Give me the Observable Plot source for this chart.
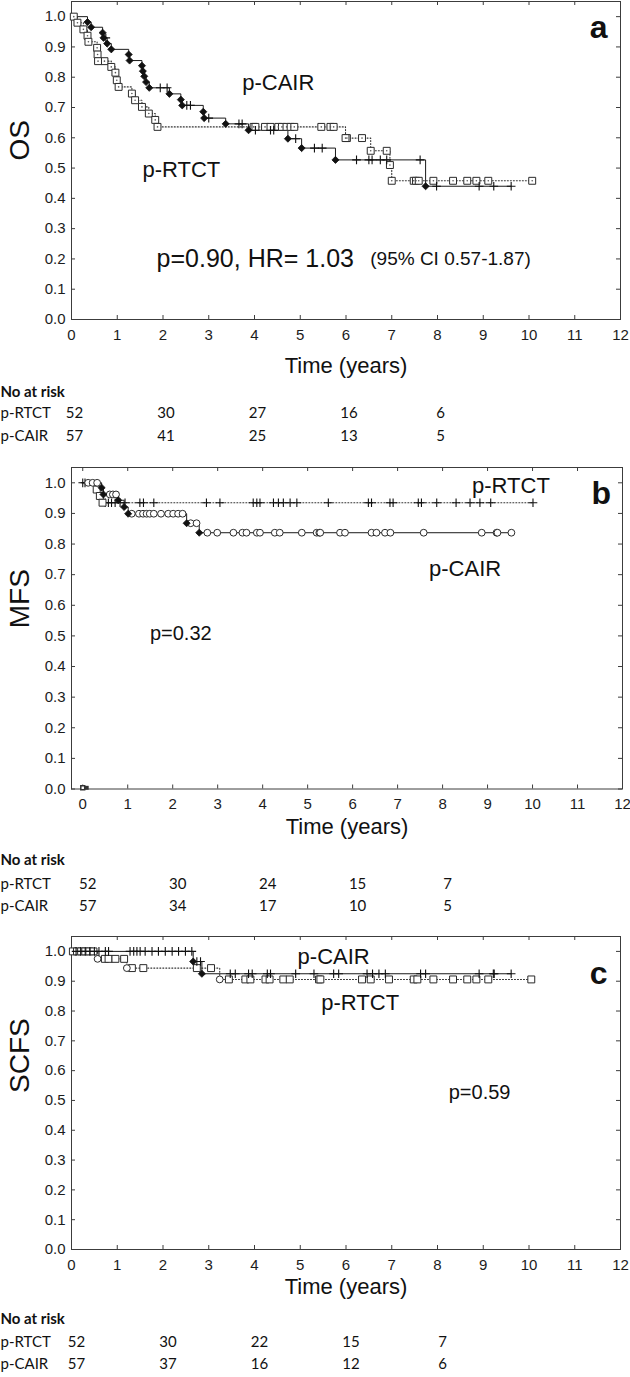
<!DOCTYPE html>
<html><head><meta charset="utf-8">
<script src="https://cdn.jsdelivr.net/npm/d3@7"></script>
<script src="https://cdn.jsdelivr.net/npm/@observablehq/plot@0.6"></script>
<style>
body{margin:0;background:#fff;}
#wrap{position:relative;width:630px;height:1377px;overflow:hidden;background:#fff;}
.panel{position:absolute;left:0;}
</style></head><body><div id="wrap"></div>
<script>
// ---------- shared axis values ----------
const xTicks = [0,1,2,3,4,5,6,7,8,9,10,11,12];
const yTicks = [0,0.1,0.2,0.3,0.4,0.5,0.6,0.7,0.8,0.9,1.0];
const riskTimes = [0,2,4,6,8];
const groups = ["p-RTCT","p-CAIR"];

// ---------- panel a: OS ----------
const osCairEvents = [[0.35,0.982],[0.43,0.965],[0.68,0.947],[0.70,0.930],[0.78,0.911],[0.87,0.892],[1.25,0.875],[1.27,0.855],[1.54,0.838],[1.56,0.820],[1.59,0.803],[1.63,0.784],[1.70,0.765],[2.14,0.745],[2.39,0.726],[2.42,0.707],[2.88,0.686],[2.90,0.665],[3.37,0.646],[3.87,0.625],[4.73,0.597],[5.03,0.566],[5.77,0.527],[7.74,0.440]];
const osCairCensored = [0.75,1.94,2.09,2.52,2.60,3.00,3.66,3.73,4.02,4.35,4.42,4.90,5.31,5.48,6.23,6.50,6.57,6.75,6.89,7.62,7.98,8.91,9.23,9.61];
const osRtctEvents = [[0.13,0.980],[0.26,0.958],[0.35,0.937],[0.37,0.917],[0.56,0.897],[0.57,0.875],[0.58,0.853],[0.87,0.834],[0.96,0.815],[0.99,0.790],[1.03,0.768],[1.32,0.746],[1.39,0.724],[1.54,0.702],[1.69,0.680],[1.83,0.659],[1.88,0.636],[5.99,0.599],[6.54,0.557],[6.96,0.510],[7.00,0.458]];
const osRtctCensored = [0.05,0.72,3.98,4.02,4.23,4.35,4.52,4.60,4.70,4.79,4.87,5.46,5.66,5.73,6.02,6.35,6.89,7.48,7.53,7.59,7.91,8.34,8.65,8.85,9.11,10.07];
const osRiskRtct = [52,30,27,16,6];
const osRiskCair = [57,41,25,13,5];

// ---------- panel b: MFS ----------
const mfsRtctEvents = [[0.31,0.978],[0.38,0.957],[0.44,0.935]];
const mfsRtctCensored = [0.00,0.05,0.50,0.57,0.64,0.72,0.83,0.94,1.27,1.35,1.58,2.75,3.05,3.79,3.87,3.94,4.24,4.35,4.46,4.61,4.76,5.46,6.35,6.42,6.83,6.90,7.46,7.53,7.87,8.30,8.61,8.83,9.07,10.01];
const mfsCairEvents = [[0.42,0.984],[0.46,0.962],[0.79,0.943],[0.92,0.921],[1.01,0.899],[2.31,0.868],[2.59,0.837]];
const mfsCairCensored = [0.12,0.22,0.32,0.60,0.67,0.74,1.09,1.25,1.34,1.42,1.49,1.58,1.74,1.90,2.01,2.12,2.22,2.40,2.53,2.77,2.99,3.35,3.55,3.64,3.87,3.94,4.27,4.38,4.87,5.20,5.26,5.28,5.72,5.83,6.42,6.53,6.72,6.84,7.58,8.87,9.20,9.22,9.53];
const mfsStray = [[0,0.004]];
const mfsRiskRtct = [52,30,24,15,7];
const mfsRiskCair = [57,34,17,10,5];

// ---------- panel c: SCFS ----------
const scfsCairEvents = [[2.66,0.966],[2.85,0.925]];
const scfsCairCensored = [0.10,0.20,0.30,0.40,0.50,0.60,0.74,0.81,1.28,1.36,1.43,1.50,1.61,1.76,1.90,2.05,2.20,2.34,2.49,2.63,2.74,2.82,3.47,3.58,3.87,3.95,4.28,4.35,4.90,5.30,5.73,5.84,6.46,6.58,6.72,6.86,7.63,7.74,8.91,9.22,9.24,9.61];
const scfsRtctEvents = [[0.57,0.975],[1.21,0.944],[3.24,0.906]];
const scfsRtctCensored = [0.03,0.12,0.21,0.30,0.39,0.48,0.73,0.81,0.96,1.15,1.32,1.57,2.74,3.05,3.44,3.80,3.91,4.24,4.33,4.63,4.77,5.41,5.44,6.35,6.54,6.94,7.48,7.56,7.91,8.34,8.65,8.85,9.11,10.05];
const scfsRiskRtct = [52,30,22,15,7];
const scfsRiskCair = [57,37,16,12,6];

// ---------- styles ----------
const FONT = "'Liberation Sans', Arial, sans-serif";
const TFONT = "Lato, 'Open Sans', sans-serif";
const INK = "#1c1c1c";
const SYM = {
  diamond: {symbol:"diamond2", fill:"#111", stroke:"#111", r:3.2, strokeWidth:0.8},
  plus:    {symbol:"plus", fill:"none", stroke:"#111", r:2.9, strokeWidth:1.1},
  square:  {symbol:"square", fill:"#fff", stroke:"#2a2a2a", r:3.9, strokeWidth:1},
  circle:  {symbol:"circle", fill:"#fff", stroke:"#2a2a2a", r:3.4, strokeWidth:1}
};

function survAt(events, t){ let s = 1; for (const [te,se] of events) if (te <= t) s = se; return s; }
function stepPath(events, censored){
  const end = Math.max(...censored, ...events.map(e=>e[0]));
  const pts = [{t:0,s:1}, ...events.map(([t,s])=>({t,s}))];
  pts.push({t:end, s:survAt(events,end)});
  return pts;
}

function panel(cfg){
  const W = 630, ML = 71;
  const frameH = cfg.height - cfg.marginTop - cfg.marginBottom;
  const frameW = W - ML - cfg.marginRight;
  const marks = [];
  marks.push(Plot.frame({stroke:"#3c3c3c", strokeWidth:1}));
  marks.push(Plot.tickX(xTicks, {x:d=>d, insetTop:frameH-4, stroke:"#3c3c3c"}));
  marks.push(Plot.tickX(xTicks, {x:d=>d, insetBottom:frameH-4, stroke:"#3c3c3c"}));
  marks.push(Plot.tickY(yTicks, {y:d=>d, insetRight:frameW-4, stroke:"#3c3c3c"}));
  marks.push(Plot.tickY(yTicks, {y:d=>d, insetLeft:frameW-4, stroke:"#3c3c3c"}));
  marks.push(Plot.axisX(xTicks, {anchor:"bottom", tickSize:0, tickPadding:cfg.tickPad, label:null, fill:INK, fontFamily:FONT}));
  marks.push(Plot.axisY(yTicks, {anchor:"left", tickSize:0, tickPadding:6, tickFormat:d=>d.toFixed(1), label:null, fill:INK, fontFamily:FONT}));
  for (const s of cfg.series){
    marks.push(Plot.line(stepPath(s.events, s.censored), {x:"t", y:"s", curve:"step-after",
      stroke: s.dotted ? "#333" : "#1a1a1a", strokeWidth: s.dotted ? 1.1 : 1,
      strokeDasharray: s.dotted ? "1,2" : null}));
  }
  for (const s of cfg.series){
    const cens = s.censored.map(t=>({t, s:survAt(s.events,t)}));
    const ev = s.events.map(([t,v])=>({t, s:v}));
    marks.push(Plot.dot(cens, {x:"t", y:"s", ...SYM[s.censSym]}));
    marks.push(Plot.dot(ev, {x:"t", y:"s", ...SYM[s.eventSym]}));
    if (s.inner){
      marks.push(Plot.dot([...cens, ...ev], {x:"t", y:"s", r:0.8, fill:"#555"}));
    }
  }
  if (cfg.stray){
    const st = cfg.stray.map(([t,v])=>({t,s:v}));
    marks.push(Plot.dot(st, {x:"t", y:"s", symbol:"square", r:2.2, fill:"#fff", stroke:"#333"}));
    marks.push(Plot.dot(st, {x:"t", y:"s", symbol:"square", r:2.2, fill:"#333", dx:4}));
  }
  for (const l of cfg.labels){
    marks.push(Plot.text([l], {x:"t", y:"s", text:"text", fontSize:l.size, fontWeight:l.weight||"normal",
      textAnchor:l.anchor||"middle", fill:"#111", fontFamily:FONT}));
  }
  marks.push(Plot.text([cfg.yTitle], {frameAnchor:"left", dx:-51, rotate:-90, fontSize:28, fill:"#111", fontFamily:FONT}));
  marks.push(Plot.text(["Time (years)"], {frameAnchor:"bottom", dy:cfg.timeDy, fontSize:22, fill:"#111", fontFamily:FONT}));
  marks.push(Plot.text(["No at risk"], {frameAnchor:"bottom-left", dx:-ML, dy:cfg.rowDy[0], textAnchor:"start", fontSize:15, fontWeight:"bold", fill:"#111", fontFamily:TFONT}));
  cfg.risk.forEach((vals, i)=>{
    marks.push(Plot.text([groups[i]], {frameAnchor:"bottom-left", dx:-ML, dy:cfg.rowDy[i+1], textAnchor:"start", fontSize:15, fill:"#111", fontFamily:TFONT}));
    marks.push(Plot.text(riskTimes.map((t,j)=>({t, n:vals[j]})), {x:"t", frameAnchor:"bottom", dy:cfg.rowDy[i+1], dx:cfg.riskDx, text:"n", fontSize:15, fill:"#111", fontFamily:TFONT}));
  });

  const svg = Plot.plot({
    width: W, height: cfg.height,
    marginLeft: ML, marginRight: cfg.marginRight, marginTop: cfg.marginTop, marginBottom: cfg.marginBottom,
    x: {domain: cfg.xDomain},
    y: {domain: [0, 1.05]},
    style: {fontFamily: FONT, fontSize: "15px", color: INK, background: "transparent", overflow: "visible"},
    marks
  });
  const div = document.createElement("div");
  div.className = "panel";
  div.style.top = cfg.top + "px";
  div.appendChild(svg);
  document.getElementById("wrap").appendChild(div);
}

panel({
  top: 0, height: 455, marginTop: 1, marginBottom: 136, marginRight: 10, xDomain: [0,12],
  tickPad: 10, timeDy: 53, rowDy: [77, 98, 121], riskDx: 3, yTitle: "OS",
  series: [
    {events: osRtctEvents, censored: osRtctCensored, dotted: true, eventSym: "square", censSym: "square", inner: true},
    {events: osCairEvents, censored: osCairCensored, dotted: false, eventSym: "diamond", censSym: "plus"}
  ],
  labels: [
    {t:4.52, s:0.78, text:"p-CAIR", size:22},
    {t:2.40, s:0.494, text:"p-RTCT", size:22},
    {t:1.86, s:0.20, text:"p=0.90, HR= 1.03", size:25, anchor:"start"},
    {t:6.53, s:0.20, text:"(95% CI 0.57-1.87)", size:19, anchor:"start"},
    {t:11.52, s:0.962, text:"a", size:32, weight:"bold"}
  ],
  risk: [osRiskRtct, osRiskCair]
});

panel({
  top: 455, height: 465, marginTop: 12, marginBottom: 131.5, marginRight: 8, xDomain: [-0.25,12],
  tickPad: 9, timeDy: 44.5, rowDy: [75.5, 99.5, 121.5], riskDx: 5, yTitle: "MFS",
  series: [
    {events: mfsRtctEvents, censored: mfsRtctCensored, dotted: true, eventSym: "square", censSym: "plus"},
    {events: mfsCairEvents, censored: mfsCairCensored, dotted: false, eventSym: "diamond", censSym: "circle"}
  ],
  stray: mfsStray,
  labels: [
    {t:9.52, s:0.989, text:"p-RTCT", size:22},
    {t:8.50, s:0.719, text:"p-CAIR", size:22},
    {t:2.18, s:0.507, text:"p=0.32", size:20},
    {t:11.53, s:0.963, text:"b", size:32, weight:"bold"}
  ],
  risk: [mfsRiskRtct, mfsRiskCair]
});

panel({
  top: 920, height: 457, marginTop: 16, marginBottom: 128, marginRight: 10, xDomain: [0,12],
  tickPad: 9.5, timeDy: 44, rowDy: [74, 97, 119], riskDx: 5, yTitle: "SCFS",
  series: [
    {events: scfsRtctEvents, censored: scfsRtctCensored, dotted: true, eventSym: "circle", censSym: "square"},
    {events: scfsCairEvents, censored: scfsCairCensored, dotted: false, eventSym: "diamond", censSym: "plus"}
  ],
  labels: [
    {t:5.73, s:0.98, text:"p-CAIR", size:22},
    {t:6.31, s:0.826, text:"p-RTCT", size:22},
    {t:8.92, s:0.527, text:"p=0.59", size:20},
    {t:11.52, s:0.926, text:"c", size:32, weight:"bold"}
  ],
  risk: [scfsRiskRtct, scfsRiskCair]
});
</script>
</body></html>
